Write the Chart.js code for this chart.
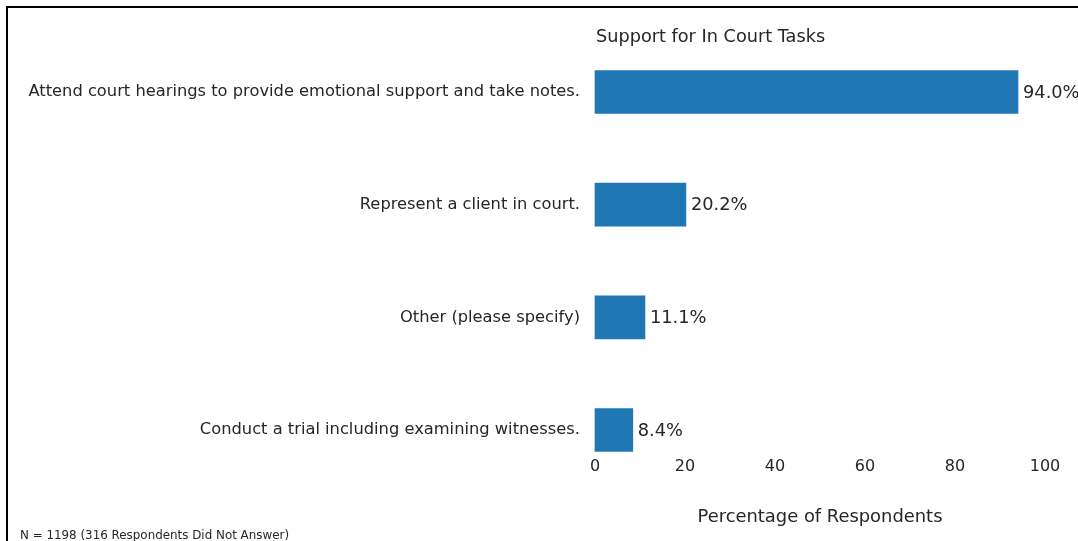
<!DOCTYPE html>
<html>
<head>
<meta charset="utf-8">
<script src="https://cdn.jsdelivr.net/npm/chart.js@4"></script>
<style>
  html, body { margin: 0; padding: 0; background: #fff; overflow: hidden; }
  #wrap { position: relative; width: 1078px; height: 541px; }
  #frame { position: absolute; left: 6px; top: 6px; width: 2000px; height: 2000px; border: 2px solid #000; box-sizing: border-box; pointer-events: none; }
  canvas { position: absolute; left: 0; top: 0; }
</style>
</head>
<body>
<div id="wrap">
  <canvas id="chart" width="1078" height="541"></canvas>
  <div id="frame"></div>
</div>
<script>
const tasks = [
  'Attend court hearings to provide emotional support and take notes.',
  'Represent a client in court.',
  'Other (please specify)',
  'Conduct a trial including examining witnesses.'
];
const percents = [94.0, 20.2, 11.1, 8.4];
const xTicks = [0, 20, 40, 60, 80, 100];
const chartTitle = 'Support for In Court Tasks';
const axisTitle = 'Percentage of Respondents';
const footNote = 'N = 1198 (316 Respondents Did Not Answer)';

const textColor = '#262626';
const fontFamily = '"DejaVu Sans", sans-serif';

const extras = {
  id: 'extras',
  afterDatasetsDraw(chart) {
    const ctx = chart.ctx;
    const area = chart.chartArea;
    ctx.save();
    ctx.fillStyle = textColor;

    // title aligned with left of plot
    ctx.font = '17.7px ' + fontFamily;
    ctx.textAlign = 'left';
    ctx.textBaseline = 'alphabetic';
    ctx.fillText(chartTitle, area.left + 1, 42);

    // value labels at bar ends
    ctx.font = '17.8px ' + fontFamily;
    ctx.textBaseline = 'middle';
    chart.getDatasetMeta(0).data.forEach((bar, i) => {
      ctx.fillText(percents[i].toFixed(1) + '%', bar.x + 5, bar.y + 1);
    });

    // footnote
    ctx.font = '11.9px ' + fontFamily;
    ctx.textBaseline = 'alphabetic';
    ctx.fillText(footNote, 20, 539);
    ctx.restore();
  }
};

new Chart(document.getElementById('chart'), {
  type: 'bar',
  data: {
    labels: tasks,
    datasets: [{
      data: percents,
      backgroundColor: '#1f77b4',
      borderWidth: 0,
      barThickness: 43,
      clip: false
    }]
  },
  options: {
    indexAxis: 'y',
    responsive: false,
    animation: false,
    layout: { padding: { left: 0, right: 33, top: 92, bottom: 0 } },
    plugins: {
      legend: { display: false },
      tooltip: { enabled: false }
    },
    scales: {
      x: {
        min: 0,
        max: 100,
        grid: { display: false, drawTicks: false },
        border: { display: false },
        afterBuildTicks(scale) {
          scale.ticks = xTicks.map((v) => ({ value: v }));
        },
        afterFit(scale) {
          scale.height = 111;
          scale.paddingLeft = 0;
          scale.paddingRight = 0;
        },
        ticks: {
          color: textColor,
          font: { family: fontFamily, size: 16 },
          padding: 27
        },
        title: {
          display: true,
          text: axisTitle,
          color: textColor,
          font: { family: fontFamily, size: 17.9 },
          padding: { top: 0, bottom: 13 }
        }
      },
      y: {
        offset: false,
        grid: { display: false, drawTicks: false },
        border: { display: false },
        afterFit(scale) {
          scale.width = 595;
          scale.paddingTop = 0;
          scale.paddingBottom = 0;
        },
        ticks: {
          color: textColor,
          font: { family: fontFamily, size: 16.3 },
          padding: 15
        }
      }
    }
  },
  plugins: [extras]
});
</script>
</body>
</html>
